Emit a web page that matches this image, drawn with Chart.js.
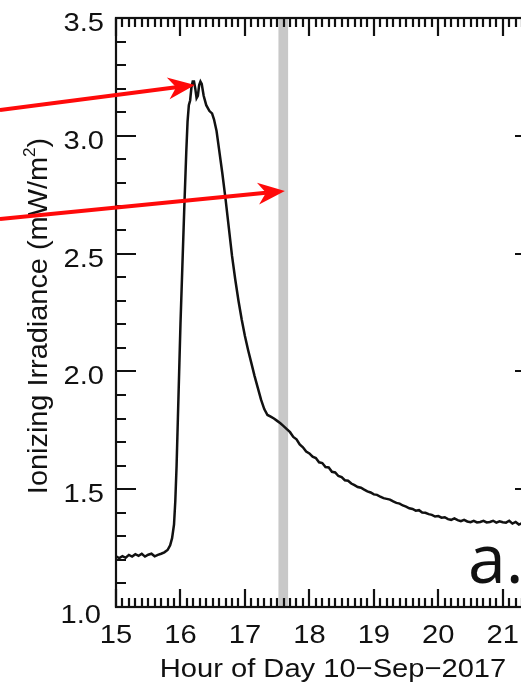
<!DOCTYPE html>
<html>
<head>
<meta charset="utf-8">
<script src="https://cdn.jsdelivr.net/npm/chart.js@4"></script>
<style>
    html, body { margin: 0; padding: 0; background: #fff; overflow: hidden; }
    #wrap { width: 560px; height: 685px; }
</style>
</head>
<body>
<div id="wrap"><canvas id="irr-chart" width="560" height="685"></canvas></div>
<script>
// Hour of day (UT) and ionizing irradiance (mW/m^2)
const hours = [
    15.00, 15.05, 15.10, 15.15, 15.20, 15.25, 15.30, 15.35, 15.40, 15.45,
    15.50, 15.55, 15.60, 15.65, 15.70, 15.75, 15.80, 15.84, 15.87, 15.90,
    15.92, 15.94, 15.96, 15.98, 16.00, 16.03, 16.06, 16.09, 16.11, 16.13,
    16.15, 16.17, 16.19, 16.21, 16.23, 16.25, 16.27, 16.29, 16.31, 16.33,
    16.36, 16.40, 16.45, 16.49, 16.52, 16.56, 16.60, 16.65, 16.70, 16.75,
    16.80, 16.85, 16.90, 16.95, 17.00, 17.05, 17.10, 17.15, 17.20, 17.25,
    17.30, 17.35, 17.40, 17.45, 17.50, 17.55, 17.60, 17.65, 17.70, 17.75,
    17.80, 17.85, 17.90, 17.95, 18.00, 18.05, 18.10, 18.15, 18.20, 18.25,
    18.30, 18.35, 18.40, 18.45, 18.50, 18.55, 18.60, 18.65, 18.70, 18.75,
    18.80, 18.85, 18.90, 18.95, 19.00, 19.05, 19.10, 19.15, 19.20, 19.25,
    19.30, 19.35, 19.40, 19.45, 19.50, 19.55, 19.60, 19.65, 19.70, 19.75,
    19.80, 19.85, 19.90, 19.95, 20.00, 20.05, 20.10, 20.15, 20.20, 20.25,
    20.30, 20.35, 20.40, 20.45, 20.50, 20.55, 20.60, 20.65, 20.70, 20.75,
    20.80, 20.85, 20.90, 20.95, 21.00, 21.05, 21.10, 21.15, 21.20, 21.25,
    21.30, 21.35, 21.40, 21.45, 21.50
];
const irradiance = [
    1.215, 1.208, 1.216, 1.209, 1.221, 1.214, 1.224, 1.217, 1.226, 1.214,
    1.222, 1.226, 1.215, 1.221, 1.226, 1.232, 1.242, 1.262, 1.292, 1.350,
    1.450, 1.600, 1.800, 2.000, 2.200, 2.450, 2.700, 2.930, 3.060, 3.130,
    3.150, 3.205, 3.230, 3.230, 3.200, 3.160, 3.170, 3.215, 3.230, 3.220,
    3.170, 3.130, 3.105, 3.095, 3.070, 3.020, 2.940, 2.840, 2.730, 2.610,
    2.490, 2.390, 2.300, 2.220, 2.150, 2.090, 2.035, 1.980, 1.930, 1.880,
    1.840, 1.815, 1.808, 1.800, 1.790, 1.780, 1.768, 1.755, 1.742, 1.722,
    1.712, 1.690, 1.678, 1.660, 1.652, 1.638, 1.632, 1.614, 1.611, 1.594,
    1.592, 1.574, 1.571, 1.556, 1.551, 1.538, 1.536, 1.524, 1.517, 1.509,
    1.506, 1.498, 1.491, 1.486, 1.478, 1.476, 1.468, 1.462, 1.459, 1.456,
    1.448, 1.442, 1.439, 1.431, 1.426, 1.419, 1.416, 1.409, 1.411, 1.401,
    1.400, 1.394, 1.391, 1.384, 1.386, 1.379, 1.381, 1.373, 1.370, 1.376,
    1.369, 1.364, 1.370, 1.363, 1.360, 1.366, 1.359, 1.361, 1.366, 1.359,
    1.361, 1.366, 1.358, 1.364, 1.360, 1.358, 1.366, 1.354, 1.361, 1.350,
    1.356, 1.349, 1.355, 1.350, 1.350
];

// Axis ranges and tick labels
const xMin = 15, xMax = 21.5;
const yMin = 1.0, yMax = 3.5;
const xTickLabels = ['15', '16', '17', '18', '19', '20', '21'];
const yTickLabels = ['1.0', '1.5', '2.0', '2.5', '3.0', '3.5'];

// Shaded interval (hour of day)
const bandStart = [17.52];
const bandEnd = [17.67];

// Red annotation arrows (data units)
const arrowFromX = [13.20, 13.20];
const arrowFromY = [3.109, 2.647];
const arrowToX = [16.225, 17.62];
const arrowToY = [3.216, 2.766];

const FONT = "'Liberation Sans', Arial, sans-serif";

function stretchText(ctx, text, x, y, align) {
    // labels in the figure are slightly wider than the plain font
    const sx = 1.12;
    const w = ctx.measureText(text).width * sx;
    let left = x;
    if (align === 'center') left = x - w / 2;
    if (align === 'right') left = x - w;
    ctx.save();
    ctx.translate(left, y);
    ctx.scale(sx, 1);
    ctx.textAlign = 'left';
    ctx.fillText(text, 0, 0);
    ctx.restore();
}

const bandPlugin = {
    id: 'band',
    beforeDatasetsDraw(chart) {
        const { ctx, chartArea, scales } = chart;
        ctx.save();
        ctx.fillStyle = '#c8c8c8';
        for (let i = 0; i < bandStart.length; i++) {
            const x0 = scales.x.getPixelForValue(bandStart[i]);
            const x1 = scales.x.getPixelForValue(bandEnd[i]);
            ctx.fillRect(x0, chartArea.top, x1 - x0, chartArea.bottom - chartArea.top);
        }
        ctx.restore();
    }
};

const framePlugin = {
    id: 'frame',
    afterDatasetsDraw(chart) {
        const { ctx, chartArea, scales } = chart;
        const { left, right, top, bottom } = chartArea;
        const xs = scales.x, ys = scales.y;
        ctx.save();
        ctx.strokeStyle = '#111';
        ctx.lineWidth = 2.2;
        ctx.lineCap = 'butt';

        // box
        ctx.strokeRect(left, top, right - left, bottom - top);

        // x ticks, top and bottom, pointing inward
        ctx.beginPath();
        for (let k = 0; k <= Math.round((xMax - xMin) * 10); k++) {
            const v = xMin + k / 10;
            const px = Math.round(xs.getPixelForValue(v));
            const len = k % 10 === 0 ? 18 : 9;
            ctx.moveTo(px, bottom); ctx.lineTo(px, bottom - len);
            ctx.moveTo(px, top); ctx.lineTo(px, top + len);
        }
        // y ticks, left and right
        for (let k = 0; k <= Math.round((yMax - yMin) * 10); k++) {
            const v = yMin + k / 10;
            const py = Math.round(ys.getPixelForValue(v));
            const len = k % 5 === 0 ? 20 : 10;
            ctx.moveTo(left, py); ctx.lineTo(left + len, py);
            ctx.moveTo(right, py); ctx.lineTo(right - len, py);
        }
        ctx.stroke();

        // tick labels
        ctx.fillStyle = '#111';
        ctx.font = '26px ' + FONT;
        ctx.textBaseline = 'alphabetic';
        xTickLabels.forEach(t => {
            stretchText(ctx, t, xs.getPixelForValue(parseFloat(t)), 643, 'center');
        });
        yTickLabels.forEach(t => {
            const py = ys.getPixelForValue(parseFloat(t));
            if (t === '1.0') {
                stretchText(ctx, t, left - 15, py + 16, 'right');
            } else {
                stretchText(ctx, t, left - 12, py + 13, 'right');
            }
        });

        // x axis title
        ctx.font = '26px ' + FONT;
        stretchText(ctx, 'Hour of Day 10\u2212Sep\u22122017', 333, 677, 'center');

        // y axis title (rotated, with superscript)
        ctx.save();
        ctx.translate(47, 316);
        ctx.rotate(-Math.PI / 2);
        ctx.font = '27px ' + FONT;
        const main = 'Ionizing Irradiance (mW/m';
        const sx = 1.07;
        const wMain = ctx.measureText(main).width * sx;
        ctx.font = '16px ' + FONT;
        const wSup = ctx.measureText('2').width * sx;
        ctx.font = '27px ' + FONT;
        const wEnd = ctx.measureText(')').width * sx;
        let x0 = -(wMain + wSup + wEnd) / 2;
        ctx.scale(sx, 1);
        ctx.textAlign = 'left';
        ctx.fillText(main, x0 / sx, 0);
        ctx.font = '16px ' + FONT;
        ctx.fillText('2', (x0 + wMain) / sx, -12);
        ctx.font = '27px ' + FONT;
        ctx.fillText(')', (x0 + wMain + wSup) / sx, 0);
        ctx.restore();

        // panel letter
        ctx.font = "68px 'Open Sans', sans-serif";
        ctx.textAlign = 'left';
        ctx.fillText('a.', 468, 583);

        // arrows
        ctx.strokeStyle = '#ff0a0a';
        ctx.fillStyle = '#ff0a0a';
        ctx.lineWidth = 4;
        for (let i = 0; i < arrowFromX.length; i++) {
            const x1 = xs.getPixelForValue(arrowFromX[i]);
            const y1 = ys.getPixelForValue(arrowFromY[i]);
            const x2 = xs.getPixelForValue(arrowToX[i]);
            const y2 = ys.getPixelForValue(arrowToY[i]);
            const a = Math.atan2(y2 - y1, x2 - x1);
            const headLen = 27, headW = 11, notch = 19;
            const ca = Math.cos(a), sa = Math.sin(a);
            ctx.beginPath();
            ctx.moveTo(x1, y1);
            ctx.lineTo(x2 - ca * notch, y2 - sa * notch);
            ctx.stroke();
            ctx.beginPath();
            ctx.moveTo(x2, y2);
            ctx.lineTo(x2 - ca * headLen - sa * headW, y2 - sa * headLen + ca * headW);
            ctx.lineTo(x2 - ca * notch, y2 - sa * notch);
            ctx.lineTo(x2 - ca * headLen + sa * headW, y2 - sa * headLen - ca * headW);
            ctx.closePath();
            ctx.fill();
        }
        ctx.restore();
    }
};

const ctx = document.getElementById('irr-chart').getContext('2d');
new Chart(ctx, {
    type: 'line',
    data: {
        datasets: [{
            label: 'Ionizing irradiance',
            data: hours.map((h, i) => ({ x: h, y: irradiance[i] })),
            borderColor: '#111',
            borderWidth: 2.5,
            pointRadius: 0,
            tension: 0,
            fill: false
        }]
    },
    options: {
        responsive: false,
        animation: false,
        layout: { padding: { left: 116, right: 25, top: 18, bottom: 78 } },
        scales: {
            x: { type: 'linear', min: xMin, max: xMax, display: false },
            y: { type: 'linear', min: yMin, max: yMax, display: false }
        },
        plugins: {
            legend: { display: false },
            tooltip: { enabled: false }
        }
    },
    plugins: [bandPlugin, framePlugin]
});
</script>
</body>
</html>
